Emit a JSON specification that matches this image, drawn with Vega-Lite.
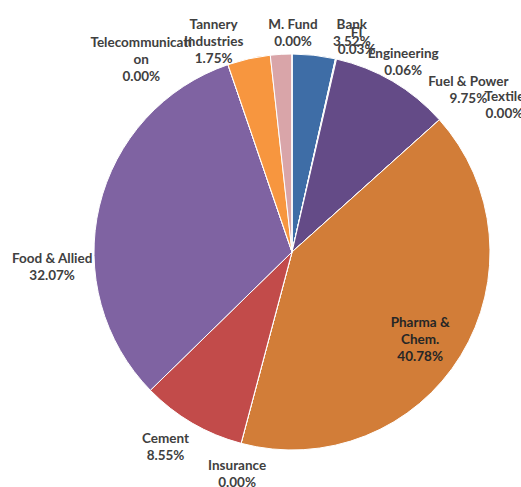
{
  "$schema": "https://vega.github.io/schema/vega-lite/v6.json",
  "autosize": "none",
  "padding": {"left": 63, "top": 17, "right": 0, "bottom": 0},
  "width": 458,
  "height": 470,
  "background": "white",
  "config": {"view": {"stroke": null}},
  "data": {"values": [
    {"idx": 1, "name": "Bank", "value": 3.52, "label": "Bank\n3.52%"},
    {"idx": 2, "name": "FI", "value": 0.03, "label": "FI\n0.03%"},
    {"idx": 3, "name": "Engineering", "value": 0.06, "label": "Engineering\n0.06%"},
    {"idx": 4, "name": "Fuel & Power", "value": 9.75, "label": "Fuel & Power\n9.75%"},
    {"idx": 5, "name": "Textile", "value": 0, "label": "Textile\n0.00%"},
    {"idx": 6, "name": "Pharma & Chem.", "value": 40.78, "label": "Pharma &\nChem.\n40.78%"},
    {"idx": 7, "name": "Insurance", "value": 0, "label": "Insurance\n0.00%"},
    {"idx": 8, "name": "Cement", "value": 8.55, "label": "Cement\n8.55%"},
    {"idx": 9, "name": "Food & Allied", "value": 32.07, "label": "Food & Allied\n32.07%"},
    {"idx": 10, "name": "Telecommunication", "value": 0, "label": "Telecommunicati\non\n0.00%"},
    {"idx": 11, "name": "Other", "value": 3.49, "label": ""},
    {"idx": 12, "name": "Tannery Industries", "value": 1.75, "label": "Tannery\nIndustries\n1.75%"},
    {"idx": 13, "name": "M. Fund", "value": 0, "label": "M. Fund\n0.00%"}
  ]},
  "encoding": {
    "theta": {"field": "value", "type": "quantitative", "stack": true},
    "order": {"field": "idx", "type": "quantitative"}
  },
  "layer": [
    {
      "mark": {"type": "arc", "outerRadius": 198, "stroke": "white", "strokeWidth": 1},
      "encoding": {
        "color": {"field": "name", "type": "nominal", "legend": null,
          "scale": {
            "domain": ["Bank", "FI", "Engineering", "Fuel & Power", "Textile", "Pharma & Chem.", "Insurance", "Cement", "Food & Allied", "Telecommunication", "Other", "Tannery Industries", "M. Fund"],
            "range": ["#3E6DA6", "#B9CDE5", "#C9D8B0", "#644B87", "#4BACC6", "#D27D38", "#9BBB59", "#C24B4A", "#7F63A2", "#4BACC6", "#F7963F", "#D9A5A9", "#4F81BD"]
          }}
      }
    },
    {"mark": {"type": "text", "radius": 225, "dx": 35, "dy": -3.5, "font": "Lato", "fontWeight": "bold", "fontSize": 13.5, "lineHeight": 17, "lineBreak": "\n", "color": "#404040", "align": "center", "baseline": "middle"},
     "encoding": {"detail": {"field": "name"}, "text": {"condition": {"test": "datum.name == 'Bank'", "field": "label"}, "value": ""}}},
    {"mark": {"type": "text", "radius": 225, "dx": 15, "dy": 0.5, "font": "Lato", "fontWeight": "bold", "fontSize": 13.5, "lineHeight": 17, "lineBreak": "\n", "color": "#404040", "align": "center", "baseline": "middle"},
     "encoding": {"detail": {"field": "name"}, "text": {"condition": {"test": "datum.name == 'FI'", "field": "label"}, "value": ""}}},
    {"mark": {"type": "text", "radius": 225, "dx": 61, "dy": 21.5, "font": "Lato", "fontWeight": "bold", "fontSize": 13.5, "lineHeight": 17, "lineBreak": "\n", "color": "#404040", "align": "center", "baseline": "middle"},
     "encoding": {"detail": {"field": "name"}, "text": {"condition": {"test": "datum.name == 'Engineering'", "field": "label"}, "value": ""}}},
    {"mark": {"type": "text", "radius": 225, "dx": 62, "dy": 23.5, "font": "Lato", "fontWeight": "bold", "fontSize": 13.5, "lineHeight": 17, "lineBreak": "\n", "color": "#404040", "align": "center", "baseline": "middle"},
     "encoding": {"detail": {"field": "name"}, "text": {"condition": {"test": "datum.name == 'Fuel & Power'", "field": "label"}, "value": ""}}},
    {"mark": {"type": "text", "radius": 225, "dx": 45, "dy": -4.5, "font": "Lato", "fontWeight": "bold", "fontSize": 13.5, "lineHeight": 17, "lineBreak": "\n", "color": "#404040", "align": "center", "baseline": "middle"},
     "encoding": {"detail": {"field": "name"}, "text": {"condition": {"test": "datum.name == 'Textile'", "field": "label"}, "value": ""}}},
    {"mark": {"type": "text", "radius": 155, "dx": -4, "dy": -10, "font": "Lato", "fontWeight": "bold", "fontSize": 13.5, "lineHeight": 17, "lineBreak": "\n", "color": "#262626", "align": "center", "baseline": "middle"},
     "encoding": {"detail": {"field": "name"}, "text": {"condition": {"test": "datum.name == 'Pharma & Chem.'", "field": "label"}, "value": ""}}},
    {"mark": {"type": "text", "radius": 225, "dx": 3, "dy": -3.5, "font": "Lato", "fontWeight": "bold", "fontSize": 13.5, "lineHeight": 17, "lineBreak": "\n", "color": "#404040", "align": "center", "baseline": "middle"},
     "encoding": {"detail": {"field": "name"}, "text": {"condition": {"test": "datum.name == 'Insurance'", "field": "label"}, "value": ""}}},
    {"mark": {"type": "text", "radius": 225, "dx": -13, "dy": -7.5, "font": "Lato", "fontWeight": "bold", "fontSize": 13.5, "lineHeight": 17, "lineBreak": "\n", "color": "#404040", "align": "center", "baseline": "middle"},
     "encoding": {"detail": {"field": "name"}, "text": {"condition": {"test": "datum.name == 'Cement'", "field": "label"}, "value": ""}}},
    {"mark": {"type": "text", "radius": 225, "dx": -21, "dy": 59.5, "font": "Lato", "fontWeight": "bold", "fontSize": 13.5, "lineHeight": 17, "lineBreak": "\n", "color": "#404040", "align": "center", "baseline": "middle"},
     "encoding": {"detail": {"field": "name"}, "text": {"condition": {"test": "datum.name == 'Food & Allied'", "field": "label"}, "value": ""}}},
    {"mark": {"type": "text", "radius": 225, "dx": -78, "dy": 4, "font": "Lato", "fontWeight": "bold", "fontSize": 13.5, "lineHeight": 17, "lineBreak": "\n", "color": "#404040", "align": "center", "baseline": "middle"},
     "encoding": {"detail": {"field": "name"}, "text": {"condition": {"test": "datum.name == 'Telecommunication'", "field": "label"}, "value": ""}}},
    {"mark": {"type": "text", "radius": 225, "dx": -66, "dy": -2, "font": "Lato", "fontWeight": "bold", "fontSize": 13.5, "lineHeight": 17, "lineBreak": "\n", "color": "#404040", "align": "center", "baseline": "middle"},
     "encoding": {"detail": {"field": "name"}, "text": {"condition": {"test": "datum.name == 'Tannery Industries'", "field": "label"}, "value": ""}}},
    {"mark": {"type": "text", "radius": 225, "dx": 1, "dy": -2.5, "font": "Lato", "fontWeight": "bold", "fontSize": 13.5, "lineHeight": 17, "lineBreak": "\n", "color": "#404040", "align": "center", "baseline": "middle"},
     "encoding": {"detail": {"field": "name"}, "text": {"condition": {"test": "datum.name == 'M. Fund'", "field": "label"}, "value": ""}}}
  ]
}
